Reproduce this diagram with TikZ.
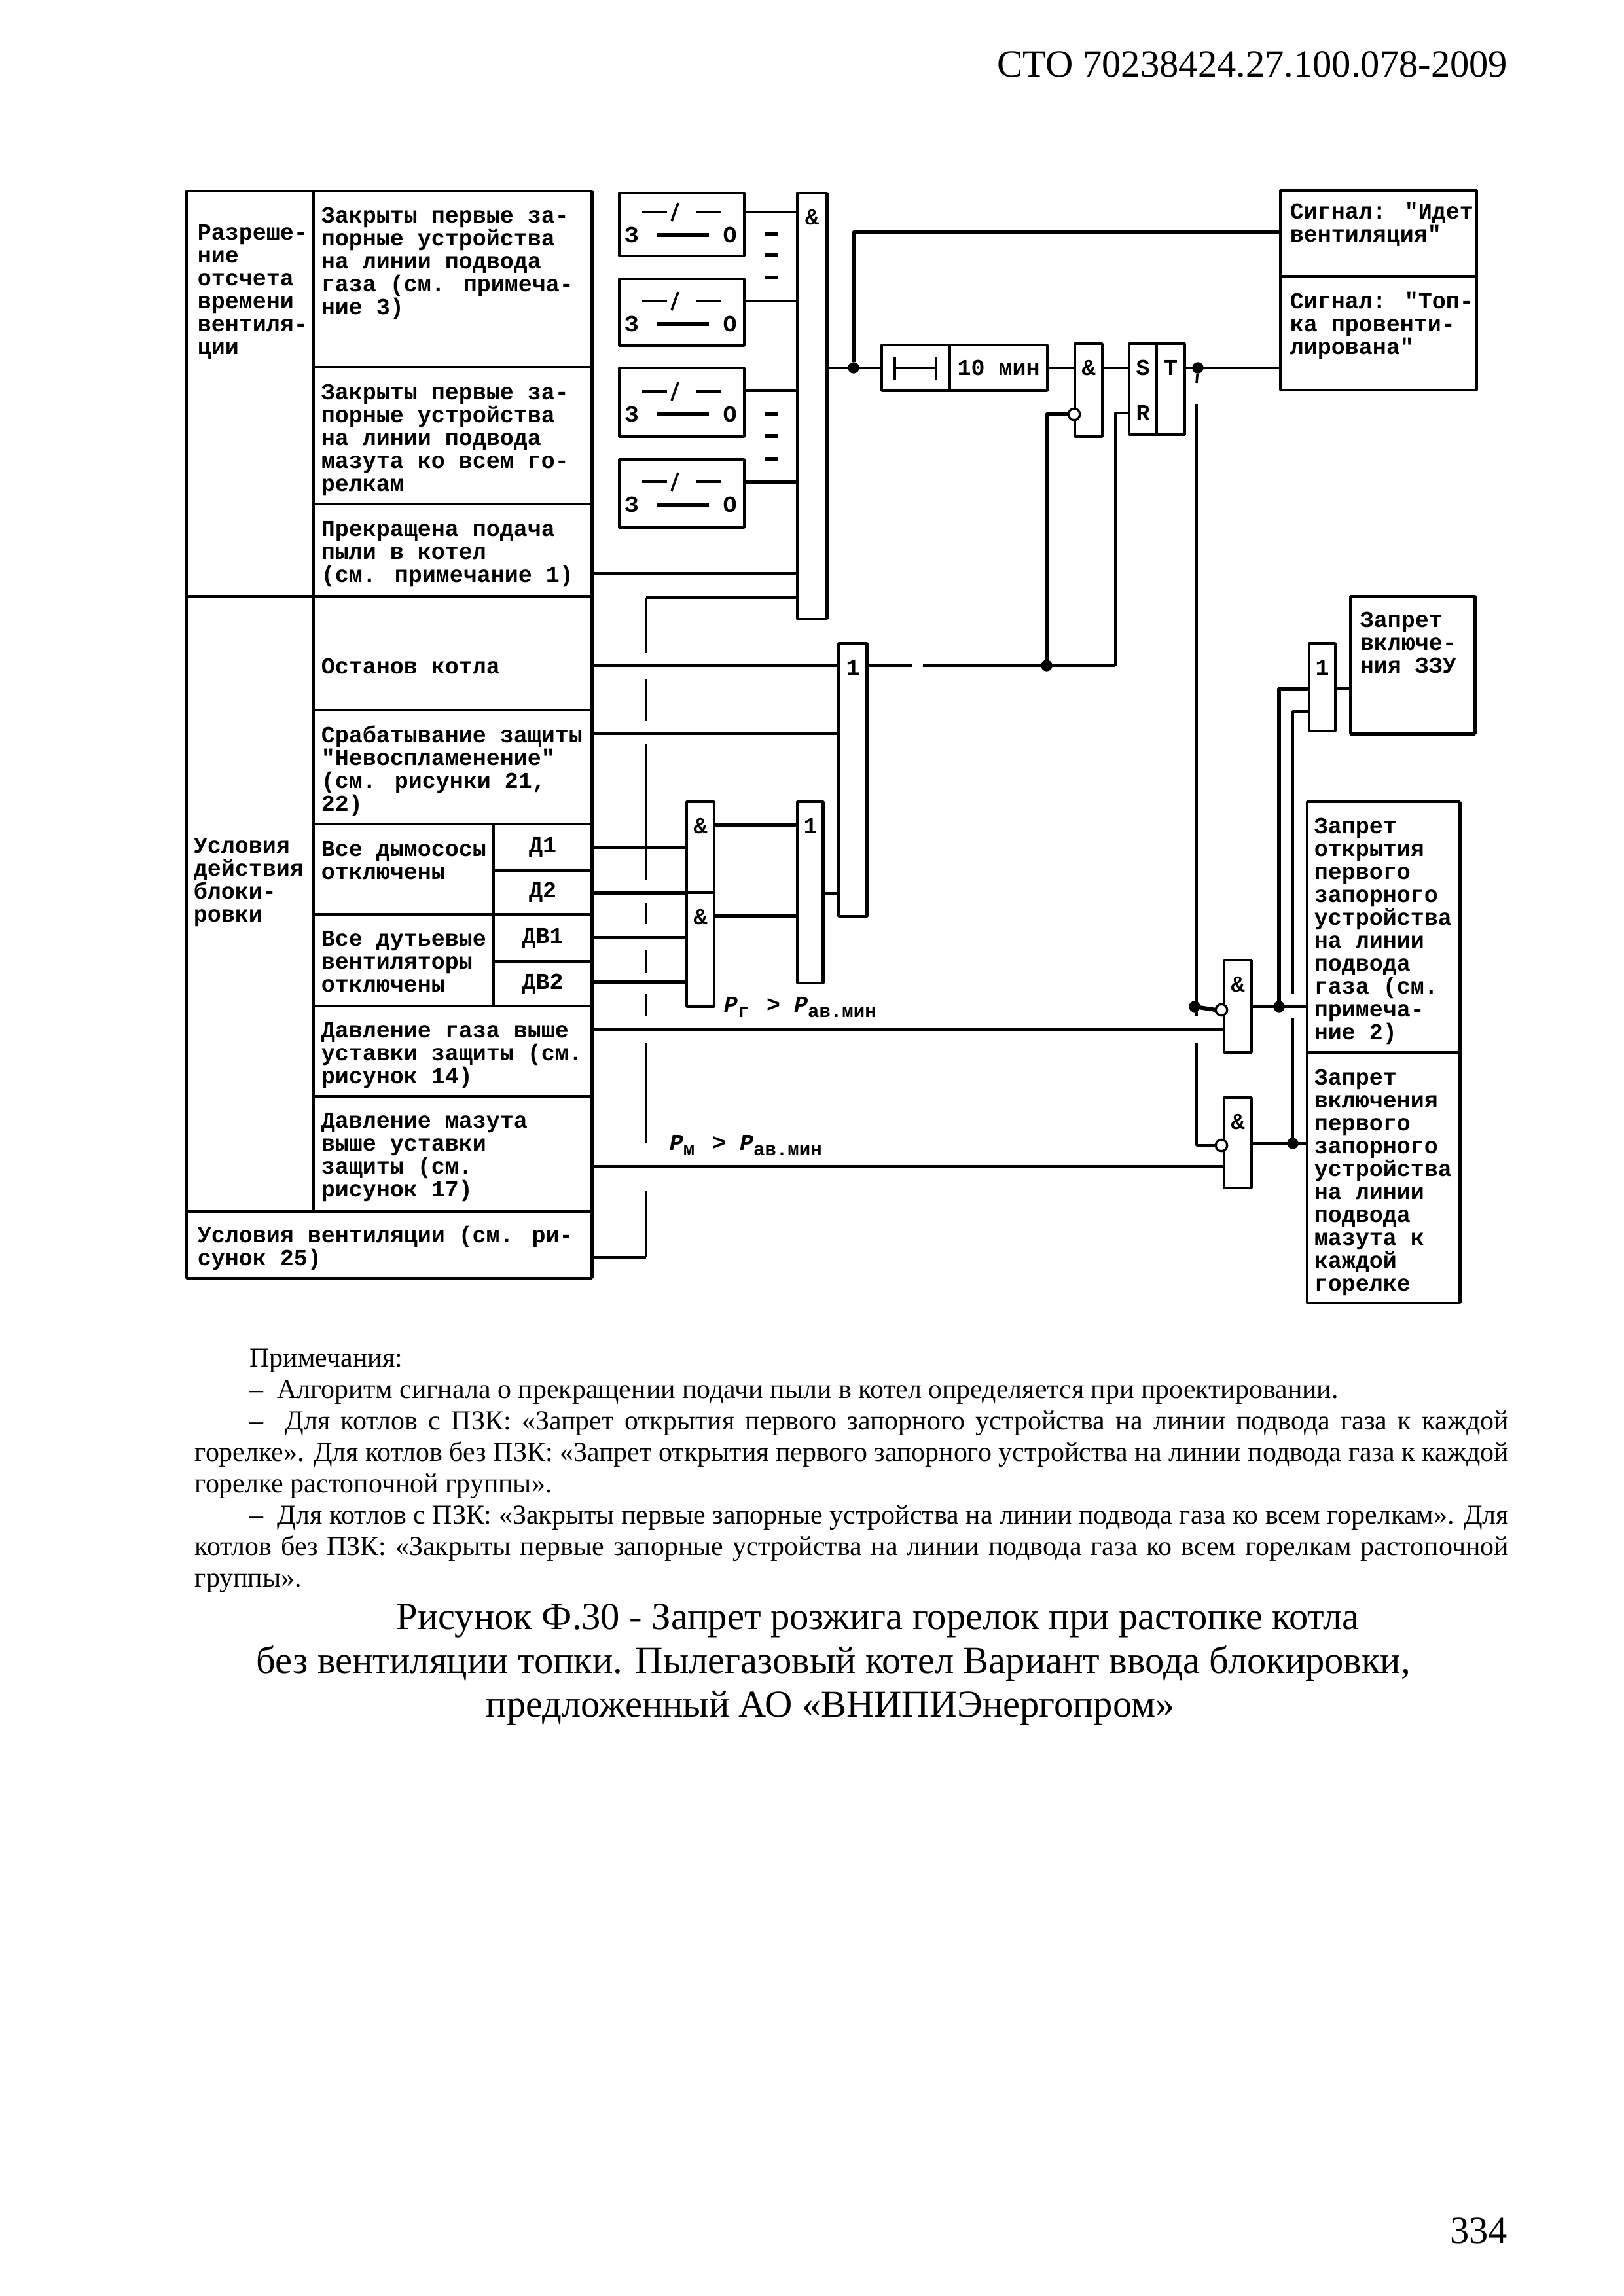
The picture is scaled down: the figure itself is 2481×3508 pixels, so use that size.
\documentclass[tikz,border=0pt]{standalone}
\usepackage{fontspec}
\setmainfont{Liberation Serif}
\newfontfamily\schemefont{Liberation Mono}
\begin{document}
\begin{tikzpicture}[x=0.2409pt, y=-0.2409pt, line join=bevel]

                \pgfmathsetmacro{\px}{0.2409}

                \tikzset{
                  panel/.style 2 args = {draw=black,line width=1pt,rectangle,anchor=north west,inner sep=0pt,outer sep=0pt,minimum width=#1*\px pt,minimum height=#2*\px pt},
                  wire/.style         = {line width=0.85pt,draw=black},
                  heavy/.style        = {line width=1.5pt,draw=black},
                  dot/.style          = {circle,fill=black,inner sep=0pt,outer sep=0pt,minimum size=4.2pt},
                  inverter/.style     = {circle,draw=black,fill=white,line width=0.8pt,inner sep=0pt,outer sep=0pt,minimum size=4.2pt},
                  scheme_text/.style  = {anchor=north west,align=left,inner sep=0pt,font=\schemefont\bfseries\fontsize{8.43}{8.43}\selectfont},
                  scheme_mark/.style  = {inner sep=0pt,font=\schemefont\bfseries\fontsize{8.43}{8.43}\selectfont},
                  page_text/.style    = {anchor=base west,inner sep=0pt,font=\fontsize{14.1}{14.1}\selectfont}
                }

                \useasboundingbox (0,0) rectangle (2481,3508);

                \node[panel={194}{619}] (permit) at (285,292) {};
                \node[panel={194}{940}] (block) at (285,911) {};
                \node[scheme_text] (permit-txt) at (301,343) {Разреше-\\ние\\отсчета\\времени\\вентиля-\\ции};
                \node[scheme_text] (block-txt) at (295,1280) {Условия\\действия\\блоки-\\ровки};

                \foreach \cellname/\cellx/\celly/\cellw/\cellh/\notex/\notey/\celltext in {
                    rowgas/479/292/425/269/490/316/{Закрыты первые за-\\порные устройства\\на линии подвода\\газа (см. примеча-\\ние 3)},
                    rowoil/479/561/425/209/490/586/{Закрыты первые за-\\порные устройства\\на линии подвода\\мазута ко всем го-\\релкам},
                    rowdust/479/770/425/141/490/796/{Прекращена подача\\пыли в котел\\(см. примечание 1)},
                    rowstop/479/911/425/174/490/1005/{Останов котла},
                    rowprot/479/1085/425/174/490/1108/{Срабатывание защиты\\"Невоспламенение"\\(см. рисунки 21,\\22)},
                    rowsmoke/479/1259/275/138/490/1285/{Все дымососы\\отключены},
                    rowfan/479/1397/275/140/490/1422/{Все дутьевые\\вентиляторы\\отключены},
                    rowpg/479/1537/425/138/490/1562/{Давление газа выше\\уставки защиты (см.\\рисунок 14)},
                    rowpm/479/1675/425/176/490/1700/{Давление мазута\\выше уставки\\защиты (см.\\рисунок 17)},
                    rowvent/285/1851/619/102/301/1872/{Условия вентиляции (см. ри-\\сунок 25)},
                    sigvent/1956/291/300/131/1970/308/{Сигнал: "Идет\\вентиляция"},
                    sigdone/1956/422/300/174/1970/445/{Сигнал: "Топ-\\ка провенти-\\лирована"},
                    banzu/2063/911/191/210/2077/934/{Запрет\\включе-\\ния ЗЗУ},
                    bangas/1997/1225/233/383/2007/1249/{Запрет\\открытия\\первого\\запорного\\устройства\\на линии\\подвода\\газа (см.\\примеча-\\ние 2)},
                    banoil/1997/1608/233/383/2007/1633/{Запрет\\включения\\первого\\запорного\\устройства\\на линии\\подвода\\мазута  к\\каждой\\горелке}}{
                    \node[panel={\cellw}{\cellh}] (\cellname) at (\cellx,\celly) {};
                    \node[scheme_text] (\cellname-txt) at (\notex,\notey) {\celltext};
                }

                \foreach \unitname/\ux/\uy/\uw/\uh/\unittext in {
                    rowd1/754/1259/150/71/Д1,
                    rowd2/754/1330/150/67/Д2,
                    rowdb1/754/1397/150/72/ДВ1,
                    rowdb2/754/1469/150/68/ДВ2}{
                    \node[panel={\uw}{\uh}] (\unitname) at (\ux,\uy) {};
                    \node[scheme_mark] (\unitname-txt) at (\unitname.center) {\unittext};
                }

                \foreach \gname/\gx/\gy/\gw/\gh/\gtext in {
                    mainand/1218/295/45/651/{\&},
                    ora/1281/983/44/417/1,
                    orb/1218/1225/40/277/1,
                    anda/1049/1225/42/139/{\&},
                    andb/1049/1364/42/174/{\&},
                    tand/1642/525/42/142/{\&},
                    trigs/1725/525/42/139/S,
                    trigt/1767/525/43/139/T,
                    orc/2000/983/40/134/1,
                    gatep/1870/1467/42/141/{\&},
                    gatem/1870/1677/42/138/{\&}}{
                    \node[panel={\gw}{\gh}] (\gname) at (\gx,\gy) {};
                    \node[scheme_mark] (\gname-txt) at ([yshift=-37*\px pt]\gname.north) {\gtext};
                }
                \node[scheme_mark] (trigr) at (1746,631) {R};

                \foreach \swname/\swtop/\swh/\swk in {
                    sw1/295/96/29,
                    sw2/426/102/34,
                    sw3/562/105/36,
                    sw4/702/104/34}{
                    \node[panel={191}{\swh}] (\swname) at (946,\swtop) {};
                    \begin{scope}[shift={(946,\swtop)}]
                        \pgfmathsetmacro{\swl}{\swk+35}
                        \draw[wire] (35,\swk) -- (73,\swk);
                        \draw[wire] (80,\swk+14) -- (90,\swk-14);
                        \draw[wire] (118,\swk) -- (156,\swk);
                        \draw[heavy] (57,\swl) -- (137,\swl);
                        \node[scheme_mark] (\swname-a) at (19,\swl) {З};
                        \node[scheme_mark] (\swname-b) at (169,\swl) {О};
                    \end{scope}
                }

                \foreach \ystub in {357,390,424,632,666,701}{
                    \draw[heavy] (1169,\ystub) -- (1188,\ystub);
                }

                \node[panel={104}{70}] (delaya) at (1347,527) {};
                \node[panel={149}{70}] (delayb) at (1451,527) {};
                \node[scheme_mark] (delayb-txt) at (delayb.center) {10 мин};
                \draw[wire] (1367,546) -- (1367,580) (1367,562) -- (1430,562) (1430,546) -- (1430,580);

                \foreach \fromname/\toname/\ypin/\linekind in {
                    sw1/mainand/324/wire,
                    sw2/mainand/460/wire,
                    sw3/mainand/597/wire,
                    sw4/mainand/736/heavy,
                    rowdust/mainand/876/wire,
                    rowstop/ora/1017/wire,
                    rowprot/ora/1121/wire,
                    rowd1/anda/1295/wire,
                    rowd2/anda/1365/heavy,
                    rowdb1/andb/1432/wire,
                    rowdb2/andb/1500/heavy,
                    anda/orb/1261/heavy,
                    andb/orb/1399/heavy,
                    orb/ora/1365/wire,
                    rowpg/gatep/1573/wire,
                    rowpm/gatem/1782/wire,
                    orc/banzu/1052/wire,
                    delayb/tand/562/wire,
                    tand/trigs/562/wire}{
                    \coordinate (\fromname-\toname) at (0,\ypin);
                    \draw[\linekind] (\fromname.east |- \fromname-\toname) -- (\toname.west |- \fromname-\toname);
                }

                \node[dot] (jvent) at (1304,562) {};
                \node[dot] (jtrig) at (1830,562) {};
                \node[dot] (jstop) at (1599,1017) {};
                \node[dot] (jgas) at (1825,1538) {};
                \node[dot] (jout) at (1954,1538) {};
                \node[dot] (joil) at (1975,1747) {};
                \node[inverter] (tinv) at (1641,633) {};
                \node[inverter] (pinv) at (1866,1543) {};
                \node[inverter] (minv) at (1866,1750) {};

                \coordinate (ventpin) at (1956,355);
                \coordinate (rpin) at (1704,631);
                \coordinate (rstop) at (1704,1017);
                \coordinate (stopgapa) at (1393,1017);
                \coordinate (stopgapb) at (1410,1017);
                \coordinate (orcpina) at (2000,1052);
                \coordinate (orcpinb) at (2000,1087);
                \coordinate (dashtop) at (987,913);
                \coordinate (dashbot) at (987,1921);

                \draw[wire] (mainand.east |- jvent) -- (jvent) -- (delaya.west |- jvent);
                \draw[heavy] (jvent) |- (sigvent.west |- ventpin);
                \draw[wire] (trigt.east |- jtrig) -- (sigdone.west |- jtrig);
                \draw[wire] (ora.east |- stopgapa) -- (stopgapa);
                \draw[wire] (stopgapb) -- (rstop);
                \draw[heavy] (jstop) |- (tinv.west);
                \draw[wire] (rstop) -- (rpin) -- (trigs.west |- rpin);
                \draw[heavy] (jgas) -- (pinv.west);
                \draw[wire] (gatep.east |- jout) -- (bangas.west |- jout);
                \draw[heavy] (jout) |- (orc.west |- orcpina);
                \draw[wire] (gatem.east |- joil) -- (banoil.west |- joil);
                \draw[wire] (joil) -- (1975,1556);
                \draw[wire] (1975,1519) |- (orc.west |- orcpinb);
                \draw[wire] (mainand.west |- dashtop) -- (dashtop);
                \draw[wire] (rowvent.east |- dashbot) -- (dashbot);

                \foreach \ya/\yb in {913/997,1037/1101,1137/1345,1379/1412,1452/1486,1519/1553,1593/1747,1820/1921}{
                    \draw[wire] (987,\ya) -- (987,\yb);
                }
                \draw[wire] (jtrig) -- (1828,585);
                \draw[wire] (1828,618) -- (1828,1553);
                \draw[wire] (1828,1593) |- (minv.west);

                \draw[line width=1.6pt] (904,292) -- (904,1953);
                \draw[line width=1.2pt] (479,292) -- (479,1851);
                \foreach \boxname in {banzu,bangas,banoil,mainand,ora,orb}{
                    \draw[heavy] (\boxname.north east) -- (\boxname.south east);
                }
                \draw[heavy] (banzu.south west) -- (banzu.south east);

                \node[scheme_mark,anchor=west] (plabelgas) at (1105,1539) {\textit{P}\raisebox{-0.4ex}{\scriptsize г} \,> \textit{P}\raisebox{-0.4ex}{\scriptsize ав.мин}};
                \node[scheme_mark,anchor=west] (plabeloil) at (1022,1750) {\textit{P}\raisebox{-0.4ex}{\scriptsize м} \,> \textit{P}\raisebox{-0.4ex}{\scriptsize ав.мин}};

                \node[page_text,anchor=base east] (header) at (2304,117) {СТО 70238424.27.100.078-2009};
                \node[page_text,anchor=base east] (pagenum) at (2304,3427) {334};

                \node[anchor=north west,inner sep=0pt,text width=2007*\px pt,align=justify,font=\fontsize{10.1}{11.56}\selectfont] (notes) at (297,2060) {%
                    \hspace*{20.2pt}Примечания:\par
                    \hspace*{20.2pt}–\ \ Алгоритм сигнала о прекращении подачи пыли в котел определяется при проектировании.\par
                    \hspace*{20.2pt}–\ \ Для котлов с ПЗК: «Запрет открытия первого запорного устройства на линии подвода газа к каждой\linebreak
                    горелке». Для котлов без ПЗК: «Запрет открытия первого запорного устройства на линии подвода газа к каждой\linebreak
                    горелке растопочной группы».\par
                    \hspace*{20.2pt}–\ \ Для котлов с ПЗК: «Закрыты первые запорные устройства на линии подвода газа ко всем горелкам». Для\linebreak
                    котлов без ПЗК: «Закрыты первые запорные устройства на линии подвода газа ко всем горелкам растопочной\linebreak
                    группы».\par};

                \foreach \capname/\capx/\capy/\captext in {
                    capa/605/2489/{Рисунок Ф.30 - Запрет розжига горелок при растопке котла},
                    capb/391/2556/{без вентиляции топки. Пылегазовый котел Вариант ввода блокировки,},
                    capc/742/2623/{предложенный АО «ВНИПИЭнергопром»}}{
                    \node[page_text] (\capname) at (\capx,\capy) {\captext};
                }

            \end{tikzpicture}
\end{document}
